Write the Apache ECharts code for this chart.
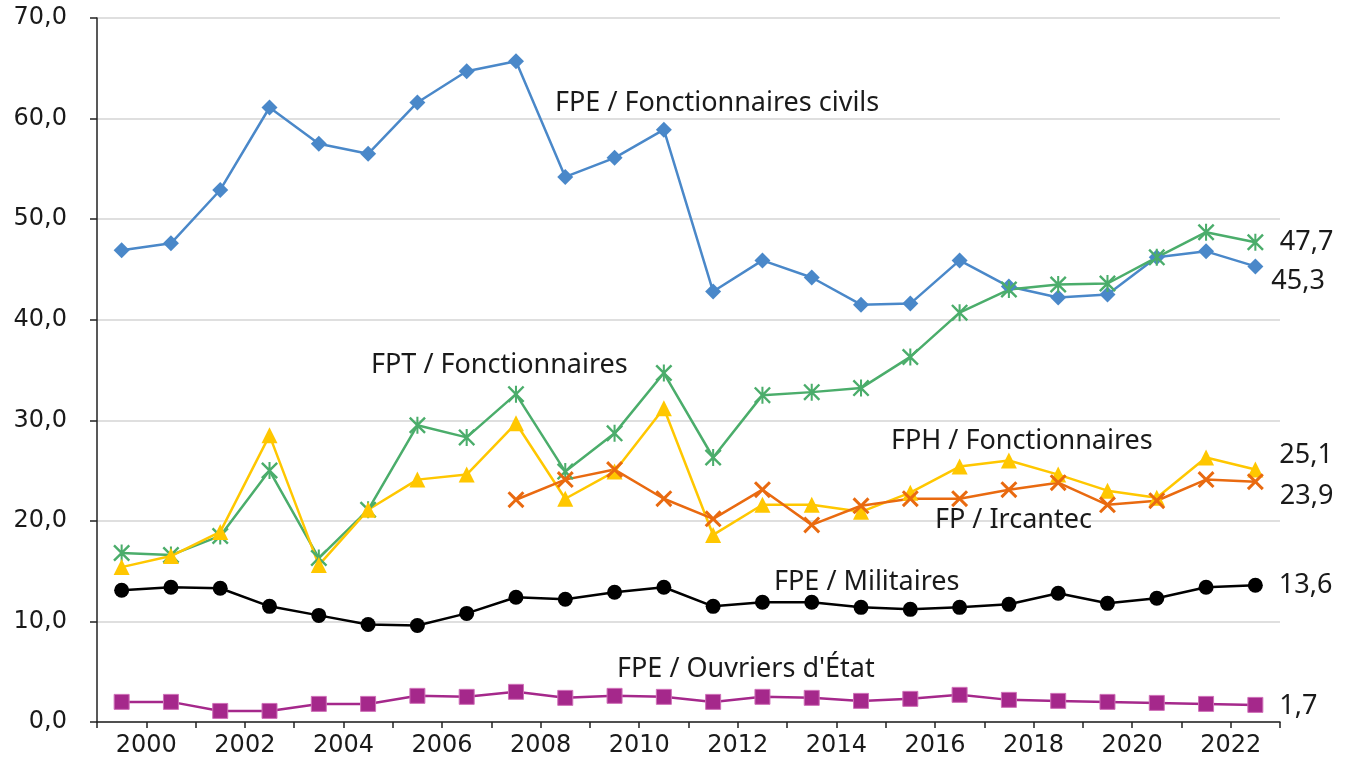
<!DOCTYPE html>
<html>
<head>
<meta charset="utf-8">
<script src="https://cdn.jsdelivr.net/npm/echarts@6/dist/echarts.min.js"></script>
<style>
  html, body { margin: 0; padding: 0; background: #fff; }
  #chart { width: 1345px; height: 760px; }
</style>
</head>
<body>
<div id="chart"></div>
<script>
// first point sits half a year after the first tick
var firstYear = 1999;
var yearTicks = ['2000', '2002', '2004', '2006', '2008', '2010', '2012', '2014', '2016', '2018', '2020', '2022'];

var fpeCivils = [46.9, 47.6, 52.9, 61.1, 57.5, 56.5, 61.6, 64.7, 65.7, 54.2, 56.1, 58.9,
  42.8, 45.9, 44.2, 41.5, 41.6, 45.9, 43.3, 42.2, 42.5, 46.2, 46.8, 45.3];
var fptFonct = [16.8, 16.6, 18.5, 25.0, 16.3, 21.1, 29.5, 28.3, 32.6, 24.9, 28.7, 34.7,
  26.3, 32.5, 32.8, 33.2, 36.3, 40.7, 43.0, 43.5, 43.6, 46.2, 48.7, 47.7];
var fphFonct = [15.4, 16.5, 18.9, 28.5, 15.6, 21.1, 24.1, 24.6, 29.7, 22.2, 24.9, 31.2,
  18.6, 21.6, 21.6, 20.9, 22.8, 25.4, 26.0, 24.6, 23.0, 22.3, 26.3, 25.1];
var fpIrcantec = [null, null, null, null, null, null, null, null, 22.1, 24.1, 25.1, 22.2,
  20.2, 23.1, 19.6, 21.5, 22.2, 22.2, 23.1, 23.8, 21.6, 22.0, 24.1, 23.9];
var fpeMilitaires = [13.1, 13.4, 13.3, 11.5, 10.6, 9.7, 9.6, 10.8, 12.4, 12.2, 12.9, 13.4,
  11.5, 11.9, 11.9, 11.4, 11.2, 11.4, 11.7, 12.8, 11.8, 12.3, 13.4, 13.6];
var fpeOuvriers = [2.0, 2.0, 1.1, 1.1, 1.8, 1.8, 2.6, 2.5, 3.0, 2.4, 2.6, 2.5,
  2.0, 2.5, 2.4, 2.1, 2.3, 2.7, 2.2, 2.1, 2.0, 1.9, 1.8, 1.7];

var axisFont = 'DejaVu Sans';
var textFont = 'Noto Sans';
var txt = '#1a1a1a';

function fr(v) { return v.toFixed(1).replace('.', ','); }

// last point gets the value label
function toData(values, labelOffset) {
  return values.map(function (v, i) {
    var item = { value: [firstYear + 0.5 + i, v] };
    if (i === values.length - 1) {
      item.label = {
        show: true, position: 'right', distance: 16, offset: labelOffset || [0, 0],
        formatter: function (p) { return fr(p.value[1]); },
        color: txt, fontSize: 27, fontFamily: textFont
      };
    }
    return item;
  });
}

var starPath = 'path://M0,2 L2,0 L10,8 L18,0 L20,2 L12,10 L20,18 L18,20 L10,12 L2,20 L0,18 L8,10 Z M8.8,0 L11.2,0 L11.2,20 L8.8,20 Z';
var crossPath = 'path://M0,2.5 L2.5,0 L10,7.5 L17.5,0 L20,2.5 L12.5,10 L20,17.5 L17.5,20 L10,12.5 L2.5,20 L0,17.5 L7.5,10 Z';

function mkSeries(name, values, color, symbol, size, offset, extraItem) {
  return {
    name: name,
    type: 'line',
    data: toData(values, offset),
    symbol: symbol,
    symbolSize: size,
    connectNulls: false,
    lineStyle: { color: color, width: 2.5 },
    itemStyle: Object.assign({ color: color }, extraItem || {}),
    emphasis: { disabled: true },
    z: 3
  };
}

function note(text, x, y) {
  return {
    type: 'text', x: x, y: y, z: 10,
    style: { text: text, font: '27px "Noto Sans"', fill: txt, verticalAlign: 'middle' }
  };
}

var chart = echarts.init(document.getElementById('chart'));
var option = {
  animation: false,
  grid: { left: 97, right: 65, top: 18, bottom: 38 },
  xAxis: {
    type: 'value',
    min: firstYear,
    max: firstYear + fpeCivils.length,
    interval: 1,
    axisLine: { show: true, lineStyle: { color: '#222', width: 1.5 } },
    axisTick: { show: true, length: 6, lineStyle: { color: '#222', width: 1.5 } },
    splitLine: { show: false },
    axisLabel: {
      margin: 12,
      color: txt, fontSize: 24, fontFamily: axisFont,
      formatter: function (v) {
        var s = String(Math.round(v));
        return yearTicks.indexOf(s) >= 0 ? s : '';
      }
    }
  },
  yAxis: {
    type: 'value',
    min: 0, max: 70, interval: 10,
    axisLine: { show: true, lineStyle: { color: '#222', width: 1.5 } },
    axisTick: { show: true, length: 7, lineStyle: { color: '#222', width: 1.5 } },
    splitLine: { lineStyle: { color: '#d4d4d4', width: 1.5 } },
    axisLabel: {
      margin: 30,
      color: txt, fontSize: 24, fontFamily: axisFont,
      formatter: function (v) { return fr(v); }
    }
  },
  series: [
    mkSeries('FPE / Ouvriers d\'État', fpeOuvriers, '#a5288b', 'rect', 15, [0, 1], { borderColor: '#cf70b8', borderWidth: 1 }),
    mkSeries('FPE / Militaires', fpeMilitaires, '#000000', 'circle', 15, [0, 0]),
    mkSeries('FPE / Fonctionnaires civils', fpeCivils, '#4a88c9', 'diamond', 16, [-8, 15]),
    mkSeries('FPT / Fonctionnaires', fptFonct, '#4bad6b', starPath, 17, [0, 0]),
    mkSeries('FPH / Fonctionnaires', fphFonct, '#ffc700', 'triangle', 16, [0, -14]),
    mkSeries('FP / Ircantec', fpIrcantec, '#e96a10', crossPath, 17, [0, 15])
  ],
  graphic: [
    note('FPE / Fonctionnaires civils', 555, 103),
    note('FPT / Fonctionnaires', 371, 365),
    note('FPH / Fonctionnaires', 891, 441),
    note('FP / Ircantec', 935, 520),
    note('FPE / Militaires', 774, 582),
    note('FPE / Ouvriers d\'État', 617, 669)
  ]
};
chart.setOption(option);
window.addEventListener('resize', function () { chart.resize(); });
</script>
</body>
</html>
